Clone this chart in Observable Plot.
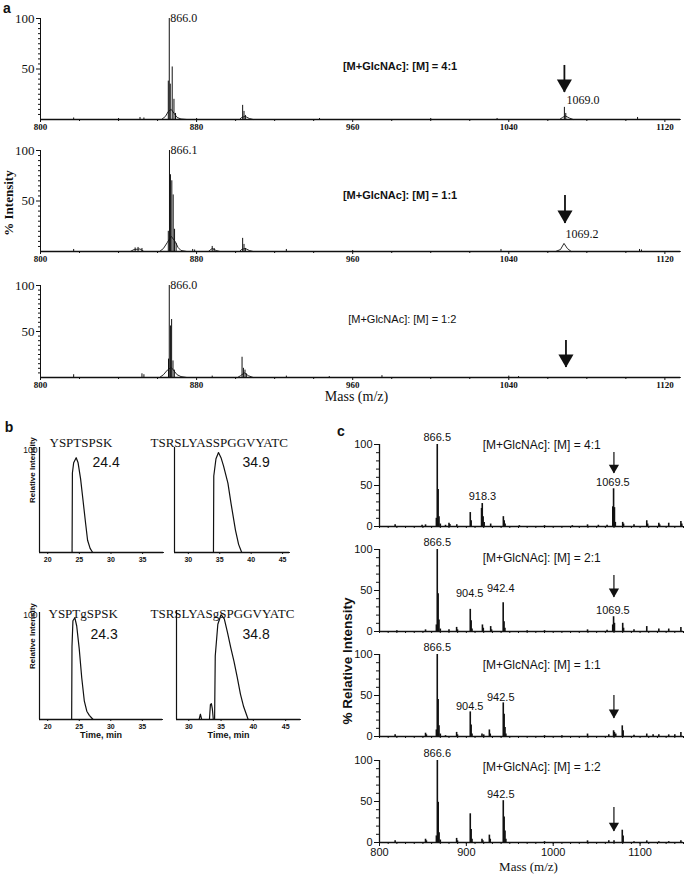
<!DOCTYPE html>
<html>
<head>
<meta charset="utf-8">
<script src="https://cdn.jsdelivr.net/npm/d3@7"></script>
<script src="https://cdn.jsdelivr.net/npm/@observablehq/plot@0.6"></script>
<style>
html,body{margin:0;padding:0;background:#fff;}
#fig{position:relative;width:685px;height:877px;overflow:hidden;background:#fff;color:#111;}
#fig svg{position:absolute;}
.t{position:absolute;white-space:nowrap;line-height:1;color:#111;}
</style>
</head>
<body>
<div id="fig"></div>
<script>
const SERIF = "'Liberation Serif','Times New Roman',serif";
const SANS = "'Liberation Sans',Arial,Helvetica,sans-serif";
const plain = d => String(d);

// ---------------- Panel a: MALDI spectra (m/z, % intensity) ----------------
const aRatios = ["[M+GlcNAc]: [M] = 4:1", "[M+GlcNAc]: [M] = 1:1", "[M+GlcNAc]: [M] = 1:2"];
const aXTickValues = [800, 880, 960, 1040, 1120];
const aXMinorTicks = [820, 840, 860, 900, 920, 940, 980, 1000, 1020, 1060, 1080, 1100];
const aYTickValues = [50, 100];
const aYMinorTicks = [5, 10, 15, 20, 25, 30, 35, 40, 45, 55, 60, 65, 70, 75, 80, 85, 90, 95];

const a1Peaks = [[817,1.5],[840,1],[851,2],[853,1.5],[865.5,38],[866.0,100],[866.5,35],[867.5,52],[868.4,20],[869.2,6],[880,1],[903.6,14],[904.3,8],[905.0,4],[943,1],[1000,1],[1034,1],[1068.5,12],[1069.2,6],[1106,2]];
const a1Profile = [[800,0],[862,0],[864,3],[865.5,8],[867,10],[868.5,6],[870,2],[872,0.5],[875,0],[902,0],[903,2],[905,3],[907,1],[909,0],[1066,0],[1067.5,2],[1069,3.5],[1071,1.5],[1073,0],[1128,0]];
const a2Peaks = [[817,2],[848.5,3.5],[850,4],[852,3],[865.5,20],[866.1,100],[866.6,76],[867.3,70],[868.0,56],[868.7,22],[869.5,8],[878,2],[879,1.5],[888,5],[889,3],[903.6,13],[904.3,7],[905,3],[926,2],[960,1],[1036,2],[1107,2],[1108,1.5]];
const a2Profile = [[800,0],[846,0],[848,2],[851,2.5],[853,0],[861,0],[863,3],[865,9],[867,15],[869,10],[870.5,4],[872,1],[875,0],[886,0],[888,3],[890,1],[892,0],[902,0],[903,2],[905,3],[907,1],[909,0],[1064,0],[1066.5,2],[1068.3,8],[1070,3],[1072,0],[1128,0]];
const a3Peaks = [[817,3],[852,4],[853,3],[865.6,20],[866.0,100],[866.6,56],[867.2,63],[867.9,18],[868.6,8],[888,1.5],[903.3,22],[904.0,10],[904.8,8],[905.5,4],[926,1.5],[948,1],[975,2],[1040,1.5],[1045,1]];
const a3Profile = [[800,0],[861,0],[863,3],[865,8],[867,11],[868.5,7],[870,3],[872,1],[875,0],[901,0],[902.5,2],[904.5,5],[906.5,2],[909,0],[1128,0]];
const aPeakLabels = [
  [{text: "866.0", mz: 866.0, y: 100}, {text: "1069.0", mz: 1069, y: 19}],
  [{text: "866.1", mz: 866.1, y: 100}, {text: "1069.2", mz: 1068.5, y: 17}],
  [{text: "866.0", mz: 866.0, y: 100}]
];
const aArrows = [{mz: 1068.5, top: 53.5, tip: 26.7}, {mz: 1068.8, top: 55.4, tip: 27.7}, {mz: 1069.3, top: 40.2, tip: 10.9}];
const aNotes = [{mz: 955, y: 52.5}, {mz: 955, y: 55.4}, {mz: 957.7, y: 63}];

// ---------------- Panel b: extracted-ion chromatograms ----------------
const bTitles = ["YSPTSPSK", "TSRSLYASSPGGVYATC", "YSPTgSPSK", "TSRSLYASgSPGGVYATC"];
const bRetention = ["24.4", "34.9", "24.3", "34.8"];
const bTicksLeft = [20, 25, 30, 35];
const bTicksRight = [30, 35, 40, 45];
const b1Trace = [[18.7,0],[23.85,0],[23.9,78],[24.1,88],[24.5,93],[24.8,88],[25.2,72],[25.6,50],[26.0,28],[26.3,12],[26.7,4],[27.1,0],[38.3,0]];
const b2Trace = [[27.8,0],[34.0,0],[34.05,75],[34.4,92],[34.8,98],[35.2,93],[35.6,85],[36.3,68],[36.8,48],[37.5,22],[38.0,8],[38.5,0],[46.1,0]];
const b3Trace = [[18.7,0],[23.8,0],[23.85,70],[24.0,95],[24.3,98],[24.6,90],[25.0,68],[25.4,40],[25.8,18],[26.2,8],[26.6,4],[27.2,0],[38.2,0]];
const b4Trace = [[28.1,0],[31.6,0],[31.8,5],[32.0,0],[33.2,0],[33.35,14],[33.5,15],[33.65,10],[33.8,0],[34.0,0],[34.1,60],[34.5,90],[35.0,99],[35.5,95],[36.0,82],[36.5,68],[37.0,55],[37.5,40],[38.0,24],[38.5,12],[39.2,0],[47.3,0]];

// ---------------- Panel c: spectra (m/z, % relative intensity) ----------------
const cRatios = ["[M+GlcNAc]: [M] = 4:1", "[M+GlcNAc]: [M] = 2:1", "[M+GlcNAc]: [M] = 1:1", "[M+GlcNAc]: [M] = 1:2"];
const cXTickValues = [800, 900, 1000, 1100];
const cYTickValues = [0, 50, 100];
const cYMinorTicks = [10, 20, 30, 40, 60, 70, 80, 90];
const cXMinorTicks = d3.range(800, 1151, 10);
const c1Peaks = [[818,2],[849,1.5],[853,2],[865.5,10],[866.5,100],[867.5,45],[868.5,12],[870,3],[876,1.5],[880,4],[881,2.5],[889,2],[904.5,17],[905.5,7],[917.5,22],[918.3,28],[919.3,12],[920.5,5],[928,3],[942.6,12],[943.6,7],[944.6,3],[961,1],[990,1],[1022,1],[1039.5,2],[1052,1.5],[1062,1.5],[1068.6,24],[1069.5,46],[1070.5,23],[1071.5,5],[1080,5],[1081,3],[1093,2],[1107.7,7],[1108.7,3],[1121.6,4],[1122.6,2],[1133,4],[1147,6],[1148,3]];
const c2Peaks = [[820,1],[853,2],[865.5,8],[866.5,100],[867.5,46],[868.5,14],[870,3],[880,2],[888.8,5],[889.8,2],[904.5,27],[905.5,13],[906.5,3],[918.5,8],[919.5,4],[928,6],[929,2],[942.4,35],[943.4,12],[944.4,4],[970,1],[990,1],[1039.5,2],[1062,1.5],[1068.5,8],[1069.5,18],[1070.5,10],[1080,10],[1081,4],[1093,2],[1107.7,6],[1121.6,3],[1133,3],[1147,5]];
const c3Peaks = [[818,2],[853,4],[854,2],[865.5,8],[866.5,100],[867.5,45],[868.5,13],[870,3],[876,1],[888.8,5],[889.8,2],[904.5,30],[905.5,14],[906.5,3],[918,3],[920,2],[926.5,8],[927.5,3],[942.5,41],[943.5,27],[944.5,11],[945.5,3],[990,1],[1010,1],[1039.5,3],[1064,2],[1069.5,7],[1070.5,5],[1072,3],[1079.5,13],[1080.5,7],[1093,1.5],[1107.7,3],[1115,2],[1121.6,2],[1133,2],[1140,2],[1147,5]];
const c4Peaks = [[818,2],[853,4],[854,2],[865.5,8],[866.6,100],[867.6,49],[868.6,12],[870,3],[888.8,5],[889.8,2],[904.5,35],[905.5,16],[906.5,4],[918,4],[919,2],[926.5,9],[927.5,4],[942.5,51],[943.5,31],[944.5,14],[945.5,4],[990,1],[1039.5,2],[1064,2],[1070,2],[1079.5,15],[1080.5,8],[1093,1],[1107.7,2],[1121.6,1],[1133,1],[1147,2]];
const cPeakLabels = [
  [{text: "866.5", mz: 866.5, y: 108.5}, {text: "918.3", mz: 918.5, y: 36.6}, {text: "1069.5", mz: 1068.7, y: 53.6}],
  [{text: "866.5", mz: 866.5, y: 108}, {text: "904.5", mz: 903.8, y: 46}, {text: "942.4", mz: 939.6, y: 53}, {text: "1069.5", mz: 1068.7, y: 25.6}],
  [{text: "866.5", mz: 866.5, y: 108.5}, {text: "904.5", mz: 903.8, y: 36.6}, {text: "942.5", mz: 939.6, y: 47.6}],
  [{text: "866.6", mz: 866.5, y: 108.4}, {text: "942.5", mz: 939.6, y: 58}]
];
const cArrows = [{mz: 1069.9, top: 90.2, tip: 64.6}, {mz: 1069.9, top: 68.3, tip: 41.5}, {mz: 1069.9, top: 50, tip: 22}, {mz: 1069.9, top: 42.7, tip: 13.4}];
const cNotes = [{mz: 918.8, y: 99}, {mz: 918.8, y: 90}, {mz: 918.8, y: 86.6}, {mz: 918.8, y: 91.5}];

// ---------------- helpers ----------------
const fig = document.getElementById("fig");
function place(el, left, top) {
  el.style.position = "absolute";
  el.style.left = left + "px";
  el.style.top = top + "px";
  fig.appendChild(el);
}
function htmlText(text, cx, cy, css, rotate) {
  const d = document.createElement("div");
  d.className = "t";
  d.textContent = text;
  d.style.cssText += css;
  d.style.left = cx + "px";
  d.style.top = cy + "px";
  d.style.transform = "translate(-50%,-50%)" + (rotate ? ` rotate(${rotate}deg)` : "");
  fig.appendChild(d);
}
const baseStyle = {background: "transparent", overflow: "visible", color: "#111"};

// ---------------- draw panel a ----------------
const aData = [
  {peaks: a1Peaks, profile: a1Profile, frameTop: 18, frameH: 101, bold: true},
  {peaks: a2Peaks, profile: a2Profile, frameTop: 150, frameH: 101, bold: true},
  {peaks: a3Peaks, profile: a3Profile, frameTop: 285, frameH: 92, bold: false}
];
aData.forEach((s, i) => {
  const last = i === 2;
  const mt = 18, mb = last ? 32 : 16;
  const svg = Plot.plot({
    width: 685, height: mt + s.frameH + mb,
    marginLeft: 40, marginRight: 5, marginTop: mt, marginBottom: mb,
    x: {domain: [800, 1128], label: null},
    y: {domain: [0, 100], label: null},
    style: baseStyle,
    marks: [
      Plot.axisX({ticks: aXMinorTicks, tickSize: 2, fill: "none", label: null}),
      Plot.axisX({ticks: aXTickValues, tickFormat: plain, tickSize: 3, tickPadding: 1, fontFamily: SERIF, fontWeight: "bold", fontSize: 9, label: null}),
      Plot.axisY({ticks: aYMinorTicks, tickSize: 2, fill: "none", label: null}),
      Plot.axisY({ticks: aYTickValues, tickFormat: plain, tickSize: 4, tickPadding: 2, fontFamily: SERIF, fontSize: 13, label: null}),
      Plot.ruleY([0], {strokeWidth: 1.3}),
      Plot.ruleX([800], {strokeWidth: 1}),
      Plot.line(s.profile, {x: d => d[0], y: d => d[1], strokeWidth: 0.9}),
      Plot.ruleX(s.peaks, {x: d => d[0], y1: 0, y2: d => d[1], strokeWidth: 1}),
      Plot.ruleX([aArrows[i]], {x: "mz", y1: "top", y2: "tip", strokeWidth: 1.8}),
      Plot.dot([aArrows[i]], {x: "mz", y: "tip", symbol: "triangle", rotate: 180, r: 5.6, fill: "#111", dy: -8.7}),
      Plot.text(aPeakLabels[i], {x: "mz", y: "y", text: "text", textAnchor: "start", dx: 1, fontFamily: SERIF, fontSize: 12}),
      Plot.text([aNotes[i]], {x: "mz", y: "y", text: () => aRatios[i], textAnchor: "start", fontFamily: SANS, fontSize: 11, fontWeight: s.bold ? "bold" : "normal"}),
      last ? Plot.text(["Mass (m/z)"], {frameAnchor: "bottom", text: d => d, dx: -4, dy: 23, fontFamily: SERIF, fontSize: 14}) : null
    ]
  });
  place(svg, 0, s.frameTop - mt);
});
htmlText("% Intensity", 8, 203, `font-family:${SERIF};font-size:13px;font-weight:bold;`, -90);
htmlText("a", 7, 8, `font-family:${SANS};font-size:14px;font-weight:bold;`);

// ---------------- draw panel b ----------------
const bData = [
  {trace: b1Trace, domain: [18.7, 38.3], ticks: bTicksLeft, left: 0, top: 425, width: 175, height: 150, ml: 39, mr: 12, mt: 22, mb: 23, titleDx: 10, titleDy: -10, rtDx: 53, rtDy: 10, leftCol: true, bottomRow: false},
  {trace: b2Trace, domain: [27.8, 46.1], ticks: bTicksRight, left: 140, top: 425, width: 165, height: 150, ml: 34, mr: 16, mt: 22, mb: 23, titleDx: -24, titleDy: -10, rtDx: 68, rtDy: 10, leftCol: false, bottomRow: false},
  {trace: b3Trace, domain: [18.7, 38.2], ticks: bTicksLeft, left: 0, top: 593, width: 175, height: 167, ml: 39, mr: 13, mt: 19, mb: 41, titleDx: 9, titleDy: -4, rtDx: 51, rtDy: 17, leftCol: true, bottomRow: true, xlDx: 0},
  {trace: b4Trace, domain: [28.1, 47.3], ticks: bTicksRight, left: 140, top: 593, width: 165, height: 167, ml: 36, mr: 5, mt: 17, mb: 41, titleDx: -26, titleDy: -2, rtDx: 66, rtDy: 19, leftCol: false, bottomRow: true, xlDx: -10}
];
bData.forEach((s, i) => {
  const svg = Plot.plot({
    width: s.width, height: s.height,
    marginLeft: s.ml, marginRight: s.mr, marginTop: s.mt, marginBottom: s.mb,
    x: {domain: s.domain, label: null},
    y: s.leftCol ? {domain: [0, 103], label: null} : {domain: [0, 103], label: null, axis: null},
    style: baseStyle,
    marks: [
      Plot.axisX({ticks: s.ticks, tickFormat: plain, tickSize: 2, tickPadding: 3, fontFamily: SANS, fontWeight: "bold", fontSize: 7, label: null}),
      s.leftCol ? Plot.axisY({ticks: [100], tickFormat: plain, tickSize: 0, tickPadding: 2, fontFamily: SANS, fontSize: 8.5, label: null}) : null,
      Plot.ruleY([0], {strokeWidth: 1.3}),
      Plot.ruleX([s.domain[0]], {strokeWidth: 1.2}),
      Plot.line(s.trace, {x: d => d[0], y: d => d[1], strokeWidth: 1.2, curve: "linear"}),
      Plot.text([bTitles[i]], {frameAnchor: "top-left", text: d => d, textAnchor: "start", dx: s.titleDx, dy: s.titleDy, fontFamily: SERIF, fontSize: 13}),
      Plot.text([bRetention[i]], {frameAnchor: "top-left", text: d => d, textAnchor: "start", dx: s.rtDx, dy: s.rtDy, fontFamily: SANS, fontSize: 14}),
      s.leftCol ? Plot.text(["Relative Intensity"], {frameAnchor: "left", text: d => d, rotate: -90, dx: -7, dy: 3, fontFamily: SANS, fontWeight: "bold", fontSize: 8}) : null,
      s.bottomRow ? Plot.text(["Time, min"], {frameAnchor: "bottom", text: d => d, dx: s.xlDx, dy: 18, fontFamily: SANS, fontWeight: "bold", fontSize: 9}) : null
    ]
  });
  place(svg, s.left, s.top);
});
htmlText("b", 9, 427, `font-family:${SANS};font-size:14px;font-weight:bold;`);

// ---------------- draw panel c ----------------
const cData = [
  {peaks: c1Peaks, frameTop: 444},
  {peaks: c2Peaks, frameTop: 549},
  {peaks: c3Peaks, frameTop: 654},
  {peaks: c4Peaks, frameTop: 760}
];
cData.forEach((s, i) => {
  const last = i === 3;
  const mt = 16, fh = 82, mb = last ? 35 : 8;
  const svg = Plot.plot({
    width: 355, height: mt + fh + mb,
    marginLeft: 49, marginRight: 2, marginTop: mt, marginBottom: mb,
    x: {domain: [800, 1150], label: null},
    y: {domain: [0, 100], label: null},
    style: baseStyle,
    marks: [
      Plot.axisY({ticks: cYMinorTicks, tickSize: 3, fill: "none", label: null}),
      Plot.axisY({ticks: cYTickValues, tickFormat: plain, tickSize: 5, tickPadding: 2, fontFamily: SANS, fontSize: 11, label: null}),
      Plot.axisX({ticks: cXMinorTicks, tickSize: 2, fill: "none", label: null}),
      last ? Plot.axisX({ticks: cXTickValues, tickFormat: plain, tickSize: 4, tickPadding: 2, fontFamily: SANS, fontSize: 11, label: null}) : null,
      Plot.ruleY([0], {strokeWidth: 1.7}),
      Plot.ruleX([800], {strokeWidth: 1.3}),
      Plot.ruleX(s.peaks, {x: d => d[0], y1: 0, y2: d => d[1], strokeWidth: 1.6}),
      Plot.ruleX([cArrows[i]], {x: "mz", y1: "top", y2: "tip", strokeWidth: 1.2}),
      Plot.dot([cArrows[i]], {x: "mz", y: "tip", symbol: "triangle", rotate: 180, r: 3.8, fill: "#111", dy: -5.9}),
      Plot.text(cPeakLabels[i], {x: "mz", y: "y", text: "text", fontFamily: SANS, fontSize: 11}),
      Plot.text([cNotes[i]], {x: "mz", y: "y", text: () => cRatios[i], textAnchor: "start", fontFamily: SANS, fontSize: 12}),
      last ? Plot.text(["Mass (m/z)"], {frameAnchor: "bottom", text: d => d, dx: -3, dy: 28, fontFamily: SERIF, fontSize: 13}) : null
    ]
  });
  place(svg, 330, s.frameTop - mt);
});
htmlText("% Relative Intensity", 348, 661, `font-family:${SANS};font-size:13.5px;font-weight:bold;`, -90);
htmlText("c", 341, 431, `font-family:${SANS};font-size:14px;font-weight:bold;`);
</script>
</body>
</html>
